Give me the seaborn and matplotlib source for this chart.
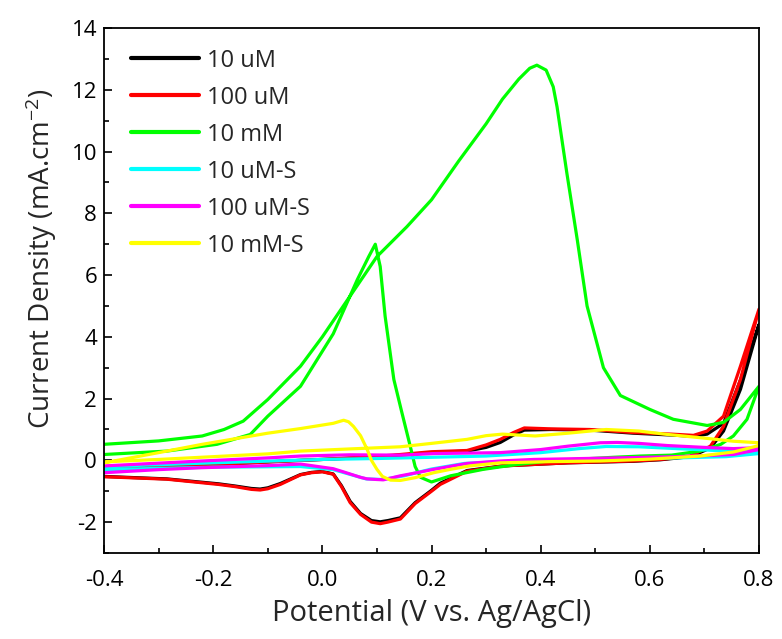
import numpy as np
import pandas as pd
import matplotlib
matplotlib.use("Agg")
import matplotlib.pyplot as plt
import seaborn as sns
from matplotlib.ticker import MultipleLocator

sns.set_theme(style="ticks")
plt.rcParams['font.family'] = ['Open Sans', 'DejaVu Sans']
plt.rcParams['mathtext.fontset'] = 'custom'
plt.rcParams['mathtext.rm'] = 'Open Sans'
plt.rcParams['mathtext.it'] = 'Open Sans'

# ---- data: each CV loop = forward scan then reverse scan ----
labels = ["10 uM", "100 uM", "10 mM", "10 uM-S", "100 uM-S", "10 mM-S"]
colors = ["#000000", "#ff0000", "#00ff00", "#00ffff", "#ff00ff", "#ffff00"]

red_E_fwd = [-0.40, -0.30, -0.20, -0.10, -0.04, 0.0, 0.05, 0.10, 0.143, 0.20, 0.265, 0.30, 0.326, 0.35, 0.37, 0.42, 0.49, 0.57, 0.64, 0.68, 0.705, 0.735, 0.766, 0.80]
red_J_fwd = [-0.30, -0.22, -0.14, -0.05, 0.0, 0.03, 0.08, 0.13, 0.19, 0.28, 0.32, 0.5, 0.68, 0.9, 1.05, 1.02, 1.0, 0.9, 0.85, 0.81, 0.95, 1.43, 3.05, 4.9]
red_E_rev = [0.80, 0.766, 0.735, 0.711, 0.674, 0.62, 0.57, 0.45, 0.33, 0.265, 0.216, 0.20, 0.17, 0.143, 0.12, 0.106, 0.09, 0.07, 0.051, 0.035, 0.02, 0.0, -0.02, -0.04, -0.077, -0.10, -0.114, -0.13, -0.16, -0.19, -0.285, -0.40]
red_J_rev = [4.9, 2.62, 1.1, 0.46, 0.14, 0.03, -0.02, -0.08, -0.18, -0.35, -0.78, -1.0, -1.4, -1.9, -2.0, -2.05, -2.0, -1.75, -1.37, -0.85, -0.45, -0.37, -0.4, -0.47, -0.78, -0.92, -0.96, -0.94, -0.85, -0.78, -0.61, -0.53]

blk_J_fwd = [-0.30, -0.22, -0.14, -0.05, 0.0, 0.03, 0.07, 0.12, 0.17, 0.25, 0.30, 0.42, 0.58, 0.82, 0.98, 1.0, 0.98, 0.88, 0.82, 0.78, 0.85, 1.2, 2.6, 4.4]
blk_J_rev = [4.4, 2.3, 0.95, 0.4, 0.12, 0.02, -0.03, -0.08, -0.18, -0.33, -0.74, -0.97, -1.37, -1.86, -1.95, -1.99, -1.95, -1.72, -1.33, -0.82, -0.44, -0.36, -0.39, -0.46, -0.75, -0.89, -0.93, -0.91, -0.83, -0.76, -0.6, -0.52]

grn_E_fwd = [-0.40, -0.30, -0.22, -0.18, -0.145, -0.10, -0.04, 0.0, 0.05, 0.10, 0.155, 0.20, 0.25, 0.30, 0.33, 0.36, 0.38, 0.393, 0.41, 0.423, 0.43, 0.448, 0.467, 0.485, 0.515, 0.546, 0.60, 0.643, 0.705, 0.735, 0.766, 0.80]
grn_J_fwd = [0.52, 0.63, 0.79, 1.0, 1.27, 1.97, 3.05, 4.0, 5.3, 6.6, 7.57, 8.44, 9.7, 10.9, 11.7, 12.35, 12.7, 12.8, 12.64, 12.1, 11.45, 9.3, 7.15, 5.0, 3.0, 2.1, 1.65, 1.33, 1.13, 1.23, 1.65, 2.4]
grn_E_rev = [0.80, 0.778, 0.753, 0.73, 0.692, 0.64, 0.583, 0.534, 0.45, 0.41, 0.35, 0.295, 0.235, 0.20, 0.18, 0.17, 0.161, 0.145, 0.131, 0.115, 0.106, 0.097, 0.085, 0.064, 0.02, -0.04, -0.10, -0.132, -0.193, -0.285, -0.40]
grn_J_rev = [2.4, 1.33, 0.79, 0.52, 0.3, 0.17, 0.14, 0.1, 0.02, -0.03, -0.15, -0.29, -0.5, -0.7, -0.55, -0.2, 0.46, 1.6, 2.62, 4.67, 6.28, 7.0, 6.6, 5.85, 4.1, 2.4, 1.43, 0.84, 0.52, 0.3, 0.19]

cyn_E_fwd = [-0.40, -0.20, 0.0, 0.10, 0.20, 0.30, 0.40, 0.47, 0.52, 0.58, 0.65, 0.72, 0.80]
cyn_J_fwd = [-0.2, -0.08, 0.03, 0.06, 0.1, 0.14, 0.25, 0.38, 0.45, 0.44, 0.38, 0.32, 0.28]
cyn_E_rev = [0.80, 0.74, 0.65, 0.50, 0.35, 0.26, 0.20, 0.15, 0.11, 0.08, 0.05, 0.02, -0.04, -0.20, -0.40]
cyn_J_rev = [0.22, 0.12, 0.08, 0.03, -0.02, -0.1, -0.28, -0.5, -0.62, -0.6, -0.45, -0.3, -0.2, -0.22, -0.3]

mag_E_fwd = [-0.40, -0.30, -0.22, -0.10, -0.04, 0.05, 0.143, 0.204, 0.326, 0.40, 0.45, 0.509, 0.54, 0.58, 0.632, 0.70, 0.753, 0.80]
mag_J_fwd = [-0.18, -0.09, -0.02, 0.08, 0.14, 0.18, 0.17, 0.22, 0.25, 0.35, 0.46, 0.57, 0.58, 0.55, 0.48, 0.42, 0.38, 0.41]
mag_E_rev = [0.80, 0.753, 0.65, 0.57, 0.45, 0.387, 0.326, 0.265, 0.204, 0.173, 0.143, 0.112, 0.10, 0.082, 0.07, 0.04, 0.02, -0.04, -0.10, -0.224, -0.30, -0.40]
mag_J_rev = [0.35, 0.19, 0.12, 0.09, 0.05, 0.03, -0.02, -0.1, -0.29, -0.4, -0.5, -0.63, -0.62, -0.6, -0.55, -0.38, -0.27, -0.12, -0.17, -0.24, -0.3, -0.4]

yel_E_fwd = [-0.40, -0.30, -0.20, -0.10, -0.04, 0.05, 0.143, 0.20, 0.265, 0.30, 0.33, 0.36, 0.39, 0.45, 0.52, 0.58, 0.632, 0.70, 0.753, 0.80]
yel_J_fwd = [-0.05, 0.03, 0.12, 0.21, 0.3, 0.37, 0.44, 0.55, 0.68, 0.8, 0.85, 0.82, 0.79, 0.88, 1.0, 0.95, 0.84, 0.72, 0.62, 0.57]
yel_E_rev = [0.80, 0.753, 0.692, 0.60, 0.509, 0.42, 0.326, 0.27, 0.235, 0.204, 0.17, 0.143, 0.125, 0.11, 0.10, 0.09, 0.082, 0.07, 0.057, 0.048, 0.039, 0.02, -0.04, -0.10, -0.22, -0.30, -0.40]
yel_J_rev = [0.48, 0.27, 0.14, 0.04, -0.02, -0.04, -0.08, -0.18, -0.29, -0.4, -0.56, -0.65, -0.64, -0.52, -0.29, 0.0, 0.36, 0.8, 1.1, 1.25, 1.3, 1.2, 1.03, 0.88, 0.52, 0.25, -0.08]

series = [
    (red_E_fwd + red_E_rev, blk_J_fwd + blk_J_rev),
    (red_E_fwd + red_E_rev, red_J_fwd + red_J_rev),
    (grn_E_fwd + grn_E_rev, grn_J_fwd + grn_J_rev),
    (cyn_E_fwd + cyn_E_rev, cyn_J_fwd + cyn_J_rev),
    (mag_E_fwd + mag_E_rev, mag_J_fwd + mag_J_rev),
    (yel_E_fwd + yel_E_rev, yel_J_fwd + yel_J_rev),
]

fig = plt.figure(figsize=(7.82, 6.39), dpi=100)
ax = fig.add_axes([0.133, 0.1346, 0.8376, 0.8214])

for (E, J), lab, col in zip(series, labels, colors):
    df = pd.DataFrame({"E": E, "J": J})
    sns.lineplot(data=df, x="E", y="J", sort=False, estimator=None,
                 color=col, lw=2.3, label=lab, ax=ax)

ax.set_xlim(-0.4, 0.8)
ax.set_ylim(-3, 14)
ax.xaxis.set_minor_locator(MultipleLocator(0.1))
ax.yaxis.set_minor_locator(MultipleLocator(1))
ax.set_yticks([-2, 0, 2, 4, 6, 8, 10, 12, 14])
ax.set_xticks([-0.4, -0.2, 0.0, 0.2, 0.4, 0.6, 0.8])
ax.set_xticklabels(["-0.4", "-0.2", "0.0", "0.2", "0.4", "0.6", "0.8"])
ax.set_yticklabels(["-2", "0", "2", "4", "6", "8", "10", "12", "14"])
ax.tick_params(which="both", direction="in", top=False, right=False,
               labelsize=16, width=1.2, colors="black")
ax.tick_params(which="major", length=6)
ax.tick_params(axis="x", which="major", pad=12)
ax.tick_params(axis="y", which="major", pad=5)
ax.tick_params(which="minor", length=3.5)
for s in ax.spines.values():
    s.set_linewidth(1.3)
    s.set_color("black")

ax.set_xlabel("Potential (V vs. Ag/AgCl)", fontsize=21, labelpad=6)
ax.set_ylabel("Current Density (mA.cm$^{-2}$)", fontsize=20)
ax.yaxis.set_label_coords(-0.068, 0.56)

leg = ax.legend(loc="upper left", frameon=False, fontsize=17,
                handlelength=2.9, labelspacing=0.55, handletextpad=0.35,
                borderaxespad=0.4, bbox_to_anchor=(0.012, 0.997))
for line in leg.get_lines():
    line.set_linewidth(3)

fig.savefig("out.png", dpi=100)
